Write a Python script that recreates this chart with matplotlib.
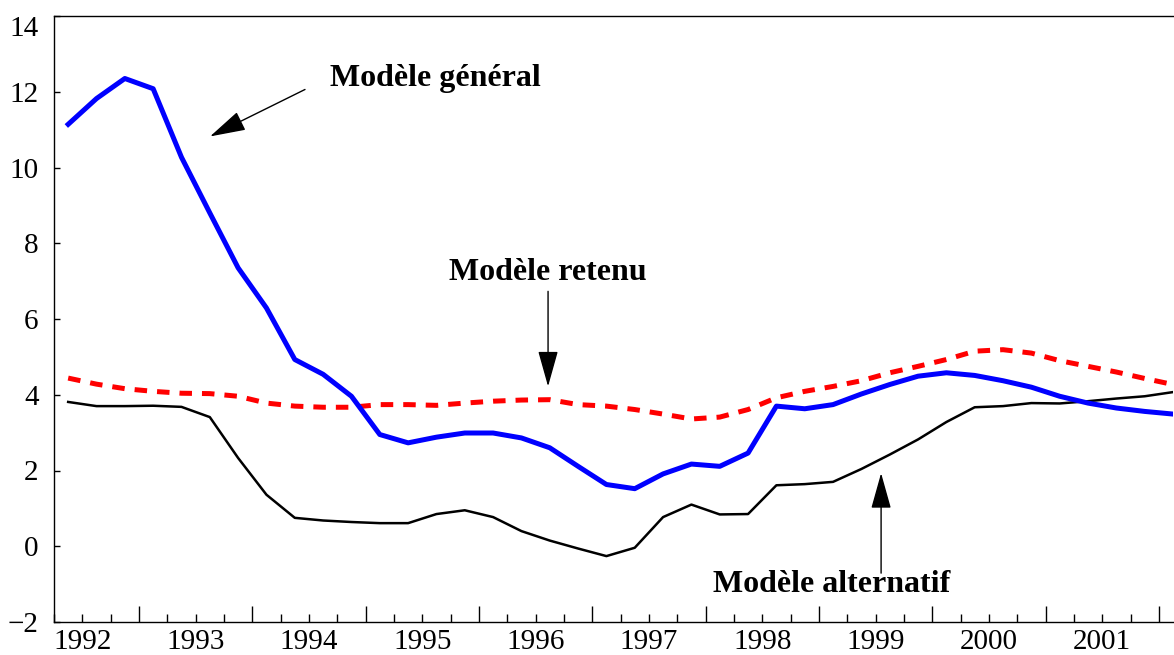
import matplotlib
matplotlib.use("Agg")
import matplotlib.pyplot as plt
import numpy as np

plt.rcParams['font.family'] = ['Liberation Serif', 'DejaVu Serif']

# Quarterly dates (mid-quarter), 1992Q2 .. 2002Q1
dates = 1992.375 + 0.25 * np.arange(40)

# Modèle général (blue)
general = [11.14, 11.82, 12.35, 12.08, 10.27, 8.80, 7.35, 6.29, 4.93, 4.54,
           3.96, 2.95, 2.73, 2.88, 2.99, 2.99, 2.86, 2.60, 2.11, 1.63,
           1.52, 1.91, 2.17, 2.11, 2.46, 3.70, 3.63, 3.74, 4.02, 4.27,
           4.49, 4.58, 4.51, 4.37, 4.20, 3.96, 3.78, 3.65, 3.56, 3.49]

# Modèle retenu (red dashed)
retenu = [4.44, 4.28, 4.16, 4.09, 4.04, 4.03, 3.96, 3.78, 3.70, 3.67,
          3.67, 3.74, 3.74, 3.72, 3.78, 3.83, 3.86, 3.87, 3.74, 3.70,
          3.61, 3.49, 3.36, 3.41, 3.61, 3.92, 4.09, 4.22, 4.37, 4.58,
          4.75, 4.93, 5.15, 5.19, 5.10, 4.90, 4.75, 4.60, 4.43, 4.27]

# Modèle alternatif (black)
alternatif = [3.81, 3.70, 3.70, 3.71, 3.68, 3.41, 2.33, 1.36, 0.75, 0.68,
              0.64, 0.61, 0.61, 0.85, 0.95, 0.77, 0.40, 0.15, -0.06, -0.26,
              -0.04, 0.77, 1.10, 0.84, 0.85, 1.61, 1.64, 1.70, 2.04, 2.42,
              2.82, 3.28, 3.67, 3.70, 3.78, 3.77, 3.83, 3.90, 3.96, 4.07]

years = list(range(1992, 2002))
yticks = [-2, 0, 2, 4, 6, 8, 10, 12, 14]
ylabels = ['\u22122', '0', '2', '4', '6', '8', '10', '12', '14']

fig = plt.figure(figsize=(11.74, 6.55), dpi=100)
ax = fig.add_axes([54 / 1174, 33 / 655, 1119 / 1174, 606 / 655])

ax.plot(dates, alternatif, color='black', lw=1.8, zorder=3)
ax.plot(dates, retenu, color='#ff0000', lw=3.6, dashes=(2.5, 2.0), zorder=4)
ax.plot(dates, general, color='#0000ff', lw=3.6, zorder=5)

ax.set_xlim(1992.25, 2002.125)
ax.set_ylim(-2, 14)

# year boundaries = major ticks, quarters = minor ticks (labels at mid-year)
ax.set_xticks([y + 1 for y in years])
ax.set_xticklabels([])
minor = [y + q for y in range(1992, 2003) for q in (0.25, 0.5, 0.75)]
minor = [m for m in minor if 1992.25 <= m <= 2002.125]
ax.set_xticks(minor, minor=True)
ax.set_xticklabels([str(int(m)) if (m % 1) == 0.5 else '' for m in minor], minor=True)
ax.tick_params(axis='x', which='major', direction='in', length=11.5, width=1.0)
ax.tick_params(axis='x', which='minor', direction='in', length=5.8, width=1.0,
               labelsize=21, pad=5)

ax.set_yticks(yticks)
ax.set_yticklabels(ylabels)
ax.tick_params(axis='y', direction='in', length=4, width=1.0, labelsize=21, pad=11)
ax.get_yticklabels()[-1].set_va('top')

ax.spines['right'].set_visible(False)
for s in ['left', 'bottom', 'top']:
    ax.spines[s].set_linewidth(1.0)

arrow = dict(arrowstyle='-|>,head_length=1.5,head_width=0.42', mutation_scale=15,
             color='black', lw=1.0, shrinkA=0, shrinkB=0)

ax.annotate('', xy=(1993.627, 10.82), xytext=(1994.465, 12.06), arrowprops=arrow)
ax.text(1994.686, 12.14, 'Modèle général', fontsize=23, fontweight='bold', va='baseline')

ax.annotate('', xy=(1996.61, 4.22), xytext=(1996.61, 6.73), arrowprops=arrow)
ax.text(1995.736, 7.02, 'Modèle retenu', fontsize=23, fontweight='bold', va='baseline')

ax.annotate('', xy=(1999.549, 1.93), xytext=(1999.549, -0.71), arrowprops=arrow)
ax.text(1998.068, -1.21, 'Modèle alternatif', fontsize=23, fontweight='bold',
        va='baseline', clip_on=False)

fig.savefig('out.png', dpi=100)
